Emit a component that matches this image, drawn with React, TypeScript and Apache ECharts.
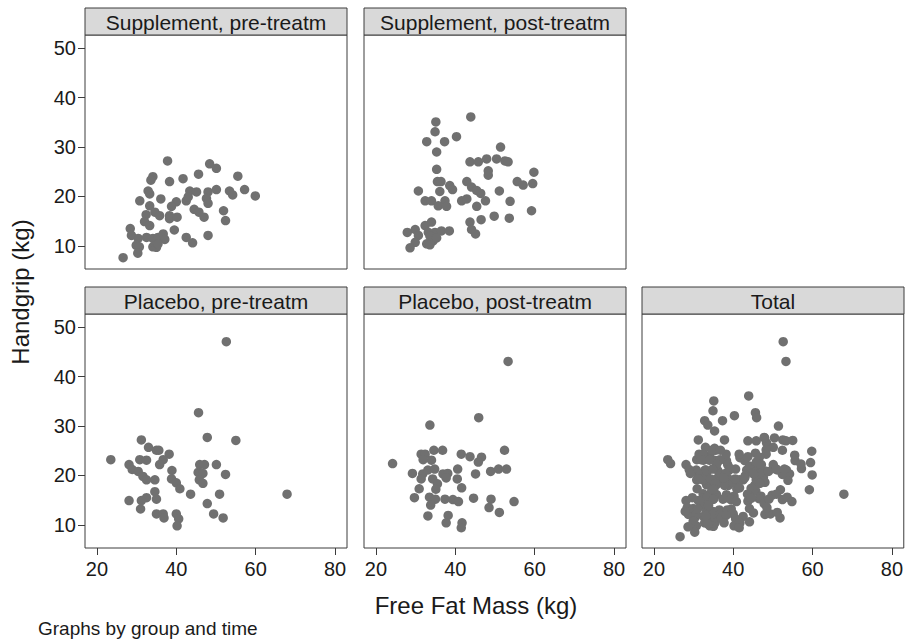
import React, { useEffect, useRef } from "react";
import * as echarts from "echarts";

// ---------- data ----------
const panelTitles = [
  "Supplement, pre-treatm",
  "Supplement, post-treatm",
  "Placebo, pre-treatm",
  "Placebo, post-treatm",
  "Total",
];
const xTicks = [20, 40, 60, 80];
const yTicks = [10, 20, 30, 40, 50];

// [Free Fat Mass (kg), Handgrip (kg)]
const supplementPre: [number, number][] = [
  [26.6, 7.6], [37.8, 27.2], [48.4, 26.6], [50.1, 25.7], [34.1, 24.0], [33.6, 23.3],
  [38.3, 23.0], [41.7, 23.6], [45.6, 24.5], [55.5, 24.1], [32.9, 21.1], [33.3, 20.5],
  [43.4, 21.1], [45.1, 20.9], [48.0, 20.9], [50.1, 21.4], [53.4, 21.1], [54.2, 20.3],
  [57.2, 21.4], [59.9, 20.1], [30.8, 19.1], [36.1, 19.5], [40.0, 18.9], [38.8, 18.0],
  [42.5, 19.1], [43.0, 19.9], [47.6, 19.6], [48.0, 18.6], [33.3, 18.1], [34.6, 16.8],
  [44.5, 17.4], [45.7, 16.8], [47.0, 15.8], [51.9, 17.1], [52.4, 15.1], [32.4, 16.3],
  [32.0, 14.9], [33.3, 14.1], [35.8, 16.1], [38.3, 16.1], [38.3, 15.5], [40.2, 15.8],
  [39.5, 13.2], [28.4, 13.5], [28.7, 12.1], [30.4, 11.5], [32.5, 11.7], [34.1, 11.5],
  [35.4, 11.7], [36.7, 12.4], [37.1, 11.3], [29.9, 10.1], [30.7, 9.8], [30.3, 8.5],
  [34.1, 9.8], [35.0, 9.7], [42.5, 11.7], [44.1, 10.6], [48.0, 12.1], [35.4, 10.4],
];
const supplementPost: [number, number][] = [
  [43.9, 36.1], [35.1, 35.1], [34.9, 33.1], [32.8, 31.1], [37.3, 31.1], [40.3, 32.1],
  [35.3, 29.0], [51.4, 30.0], [43.7, 27.0], [45.8, 27.0], [47.9, 27.6], [50.4, 27.6],
  [52.5, 27.2], [53.3, 27.0], [35.3, 25.5], [48.3, 25.2], [48.3, 24.3], [59.8, 24.9],
  [35.5, 23.0], [36.4, 23.0], [42.9, 23.0], [55.6, 23.0], [57.1, 22.3], [59.5, 22.6],
  [38.6, 22.2], [39.3, 21.4], [44.1, 21.9], [45.4, 21.2], [46.4, 20.6], [30.7, 21.1],
  [36.1, 21.0], [51.1, 21.1], [32.4, 19.1], [34.0, 19.1], [37.4, 19.1], [35.7, 18.1],
  [37.8, 18.0], [41.6, 19.1], [42.9, 19.5], [47.6, 19.1], [45.4, 18.0], [53.8, 19.0],
  [59.2, 17.1], [49.8, 16.0], [46.5, 15.3], [53.6, 15.6], [43.7, 14.8], [44.1, 13.3],
  [45.1, 12.4], [34.0, 14.8], [32.4, 14.1], [29.9, 13.3], [27.9, 12.7], [30.7, 12.1],
  [33.2, 12.7], [34.9, 12.7], [36.5, 13.0], [38.5, 13.0], [33.6, 12.0], [34.4, 11.0],
  [32.8, 10.4], [29.9, 10.7], [28.6, 9.6], [33.6, 10.2], [35.3, 11.6],
];
const placeboPre: [number, number][] = [
  [52.6, 47.1], [45.6, 32.7], [47.8, 27.7], [55.0, 27.1], [31.2, 27.2], [33.0, 25.7],
  [35.0, 25.1], [35.6, 25.1], [38.2, 24.3], [23.5, 23.2], [30.8, 23.2], [32.5, 23.1],
  [36.7, 23.2], [35.8, 22.2], [28.1, 22.2], [28.9, 21.2], [30.4, 20.8], [45.9, 22.2],
  [47.1, 22.2], [50.1, 22.2], [38.9, 21.0], [45.5, 20.6], [46.7, 20.4], [52.4, 20.2],
  [31.6, 19.8], [32.5, 19.1], [34.6, 19.1], [38.8, 19.3], [45.8, 19.1], [40.0, 18.5],
  [40.9, 17.3], [46.7, 18.4], [43.6, 16.2], [67.9, 16.2], [50.9, 16.2], [34.6, 16.7],
  [32.5, 15.5], [35.0, 15.2], [28.1, 14.9], [31.2, 14.9], [47.8, 14.3], [31.0, 13.2],
  [35.0, 12.2], [36.7, 12.2], [36.9, 11.4], [40.0, 12.2], [40.6, 11.2], [49.4, 12.2],
  [51.8, 11.4], [40.2, 9.8],
];
const placeboPost: [number, number][] = [
  [53.3, 43.1], [45.9, 31.7], [33.6, 30.2], [52.4, 25.1], [31.4, 24.3], [32.4, 24.3],
  [34.6, 25.1], [36.8, 25.1], [41.5, 24.3], [43.7, 23.8], [46.6, 23.7], [45.8, 22.7],
  [24.2, 22.4], [34.0, 23.1], [31.9, 23.2], [29.2, 20.4], [31.8, 20.3], [33.1, 21.1],
  [34.8, 21.3], [36.9, 20.3], [38.1, 20.4], [40.6, 21.3], [45.1, 20.3], [48.9, 20.8],
  [50.9, 21.3], [52.9, 21.3], [31.4, 19.3], [34.3, 19.3], [37.7, 19.5], [40.5, 19.3],
  [35.5, 18.3], [35.1, 17.2], [30.9, 17.3], [41.6, 17.5], [29.7, 15.5], [33.5, 15.6],
  [35.0, 15.2], [37.4, 15.2], [39.4, 15.1], [40.8, 14.7], [44.6, 15.4], [49.0, 15.2],
  [54.8, 14.7], [33.8, 14.0], [48.5, 13.5], [51.1, 12.5], [33.1, 11.8], [38.2, 11.9],
  [37.7, 10.4], [41.7, 10.4], [41.5, 9.4],
];
const totalData: [number, number][] = [
  ...supplementPre,
  ...supplementPost,
  ...placeboPre,
  ...placeboPost,
];
const panelData = [supplementPre, supplementPost, placeboPre, placeboPost, totalData];

// ---------- layout ----------
const PANEL_W = 262;
const PANEL_H = 234;
const HEADER_H = 27;
const panelPos = [
  { left: 85, top: 35, xLabels: false, yLabels: true },
  { left: 364, top: 35, xLabels: false, yLabels: false },
  { left: 85, top: 314, xLabels: true, yLabels: true },
  { left: 364, top: 314, xLabels: true, yLabels: false },
  { left: 642, top: 314, xLabels: true, yLabels: false },
];
const FONT = "'Liberation Sans', Arial, Helvetica, sans-serif";
const FRAME = "#3c3c3c";
const TEXT = "#1a1a1a";
const MARKER = "#707070";

export default function App() {
  const ref = useRef<HTMLDivElement>(null);
  useEffect(() => {
    document.body.style.margin = "0";
    if (!ref.current) return;
    const chart = echarts.init(ref.current, null, { renderer: "svg" });

    const grids = panelPos.map((p) => ({
      left: p.left,
      top: p.top,
      width: PANEL_W,
      height: PANEL_H,
      show: true,
      borderColor: FRAME,
      borderWidth: 1,
      backgroundColor: "#ffffff",
    }));
    const xAxes = panelPos.map((p, i) => ({
      type: "value",
      gridIndex: i,
      min: 17,
      max: 83,
      axisLine: { show: false },
      splitLine: { show: false },
      axisTick: {
        show: p.xLabels,
        length: 7,
        customValues: xTicks,
        lineStyle: { color: FRAME, width: 1 },
      },
      axisLabel: {
        show: p.xLabels,
        customValues: xTicks,
        fontSize: 20,
        fontFamily: FONT,
        color: TEXT,
        margin: 11,
      },
    }));
    const yAxes = panelPos.map((p, i) => ({
      type: "value",
      gridIndex: i,
      min: 5.3,
      max: 52.7,
      axisLine: { show: false },
      splitLine: { show: false },
      axisTick: {
        show: p.yLabels,
        length: 7,
        customValues: yTicks,
        lineStyle: { color: FRAME, width: 1 },
      },
      axisLabel: {
        show: p.yLabels,
        customValues: yTicks,
        fontSize: 20,
        fontFamily: FONT,
        color: TEXT,
        margin: 9,
      },
    }));
    const series = panelData.map((d, i) => ({
      type: "scatter",
      xAxisIndex: i,
      yAxisIndex: i,
      data: d,
      symbol: "circle",
      symbolSize: 9.5,
      itemStyle: { color: MARKER, opacity: 1 },
      emphasis: { disabled: true },
    }));

    const graphics: any[] = [];
    panelPos.forEach((p, i) => {
      graphics.push({
        type: "rect",
        shape: { x: p.left, y: p.top - HEADER_H, width: PANEL_W, height: HEADER_H },
        style: { fill: "#d9d9d9", stroke: FRAME, lineWidth: 1 },
        z: 10,
      });
      graphics.push({
        type: "text",
        x: p.left + PANEL_W / 2,
        y: p.top - HEADER_H / 2 + 1,
        style: {
          text: panelTitles[i],
          fontSize: 21,
          fontFamily: FONT,
          fill: TEXT,
          align: "center",
          verticalAlign: "middle",
        },
        z: 11,
      });
    });
    graphics.push({
      type: "text",
      x: 20,
      y: 292,
      rotation: Math.PI / 2,
      style: {
        text: "Handgrip (kg)",
        fontSize: 24,
        fontFamily: FONT,
        fill: TEXT,
        align: "center",
        verticalAlign: "middle",
      },
    });
    graphics.push({
      type: "text",
      x: 476,
      y: 605,
      style: {
        text: "Free Fat Mass (kg)",
        fontSize: 24,
        fontFamily: FONT,
        fill: TEXT,
        align: "center",
        verticalAlign: "middle",
      },
    });
    graphics.push({
      type: "text",
      x: 38,
      y: 628,
      style: {
        text: "Graphs by group and time",
        fontSize: 19,
        fontFamily: FONT,
        fill: TEXT,
        align: "left",
        verticalAlign: "middle",
      },
    });

    chart.setOption({
      animation: false,
      backgroundColor: "#ffffff",
      grid: grids,
      xAxis: xAxes,
      yAxis: yAxes,
      series,
      graphic: graphics,
    });
    return () => chart.dispose();
  }, []);
  return <div ref={ref} style={{ width: 906, height: 641 }} />;
}
